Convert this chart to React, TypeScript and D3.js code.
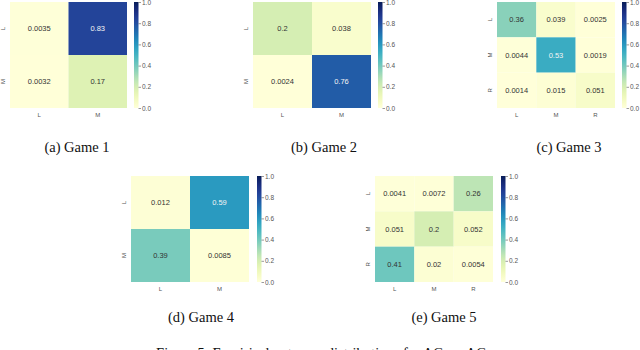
import React, { useEffect, useRef } from 'react'
import * as d3 from 'd3'

// values
const labels2 = ['L', 'M']
const labels3 = ['L', 'M', 'R']
const game1 = [[0.0035, 0.83], [0.0032, 0.17]]
const game2 = [[0.2, 0.038], [0.0024, 0.76]]
const game3 = [[0.36, 0.039, 0.0025], [0.0044, 0.53, 0.0019], [0.0014, 0.015, 0.051]]
const game4 = [[0.012, 0.59], [0.39, 0.0085]]
const game5 = [[0.0041, 0.0072, 0.26], [0.051, 0.2, 0.052], [0.41, 0.02, 0.0054]]
const captions = ['(a) Game 1', '(b) Game 2', '(c) Game 3', '(d) Game 4', '(e) Game 5']
const cbarTicks = [0, 0.2, 0.4, 0.6, 0.8, 1.0]
const figureCaption = 'Figure 5: Empirical outcome distributions for AC vs. AC'

const SANS = "'Liberation Sans', Arial, sans-serif"
const SERIF = "'Liberation Serif', 'Times New Roman', serif"

// layout: heatmap left/top, size, colorbar x, caption centre
const panels = [
  { data: game1, labels: labels2, x: 10, y: 2, w: 117, h: 106, cb: 134, cx: 77, cy: 152 },
  { data: game2, labels: labels2, x: 253, y: 2, w: 118, h: 106, cb: 378, cx: 324, cy: 152 },
  { data: game3, labels: labels3, x: 497, y: 2, w: 118, h: 106, cb: 622, cx: 569, cy: 152 },
  { data: game4, labels: labels2, x: 131, y: 176, w: 118, h: 106, cb: 257, cx: 201, cy: 322 },
  { data: game5, labels: labels3, x: 375, y: 176, w: 118, h: 106, cb: 501, cx: 444, cy: 322 },
]

const fmt = (v: number) => String(+v.toPrecision(2))

function App() {
  const ref = useRef<SVGSVGElement>(null)

  useEffect(() => {
    const svg = d3.select(ref.current)
    svg.selectAll('*').remove()
    const color = d3.scaleSequential(d3.interpolateYlGnBu).domain([0, 1])

    const defs = svg.append('defs')
    const grad = defs.append('linearGradient')
      .attr('id', 'cbar').attr('x1', 0).attr('y1', 1).attr('x2', 0).attr('y2', 0)
    d3.range(0, 1.0001, 0.05).forEach(t => {
      grad.append('stop').attr('offset', t).attr('stop-color', color(t))
    })

    panels.forEach((p, i) => {
      const g = svg.append('g')
      const xs = d3.scaleBand().domain(p.labels).range([p.x, p.x + p.w])
      const ys = d3.scaleBand().domain(p.labels).range([p.y, p.y + p.h])

      p.data.forEach((row, r) => {
        row.forEach((v, c) => {
          const x = xs(p.labels[c])!
          const y = ys(p.labels[r])!
          g.append('rect')
            .attr('x', x).attr('y', y)
            .attr('width', xs.bandwidth()).attr('height', ys.bandwidth())
            .attr('fill', color(v))
          g.append('text')
            .attr('x', x + xs.bandwidth() / 2)
            .attr('y', y + ys.bandwidth() / 2)
            .attr('dy', '0.35em')
            .attr('text-anchor', 'middle')
            .attr('font-size', 7.5)
            .attr('font-family', SANS)
            .attr('fill', v > 0.5 ? '#f4f4f4' : '#333')
            .text(fmt(v))
        })
      })

      // x tick labels
      p.labels.forEach(l => {
        g.append('text')
          .attr('x', xs(l)! + xs.bandwidth() / 2)
          .attr('y', p.y + p.h + 9)
          .attr('text-anchor', 'middle')
          .attr('font-size', 6)
          .attr('font-family', SANS)
          .attr('fill', '#555')
          .text(l)
      })
      // y tick labels, rotated
      p.labels.forEach(l => {
        const cy = ys(l)! + ys.bandwidth() / 2
        g.append('text')
          .attr('transform', `translate(${p.x - 5},${cy}) rotate(-90)`)
          .attr('text-anchor', 'middle')
          .attr('font-size', 6)
          .attr('font-family', SANS)
          .attr('fill', '#555')
          .text(l)
      })

      // colorbar
      g.append('rect')
        .attr('x', p.cb).attr('y', p.y)
        .attr('width', 4.5).attr('height', p.h)
        .attr('fill', 'url(#cbar)')
      const cs = d3.scaleLinear().domain([0, 1]).range([p.y + p.h, p.y])
      const ax = g.append('g')
        .attr('transform', `translate(${p.cb + 4.5},0)`)
        .call(d3.axisRight(cs).tickValues(cbarTicks).tickFormat(d3.format('.1f')).tickSize(2.5).tickPadding(1))
      ax.select('.domain').remove()
      ax.selectAll('line').attr('stroke', '#555').attr('stroke-width', 0.6)
      ax.selectAll('text')
        .attr('font-size', 6.5)
        .attr('font-family', SANS)
        .attr('fill', '#555')

      svg.append('text')
        .attr('x', p.cx).attr('y', p.cy)
        .attr('text-anchor', 'middle')
        .attr('font-size', 14.5)
        .attr('font-family', SERIF)
        .attr('fill', '#111')
        .text(captions[i])
    })

    svg.append('text')
      .attr('x', 321).attr('y', 358)
      .attr('text-anchor', 'middle')
      .attr('font-size', 14.5)
      .attr('font-family', SERIF)
      .attr('fill', '#111')
      .text(figureCaption)
  }, [])

  return (
    <div style={{ position: 'absolute', left: 0, top: 0 }}>
      <svg ref={ref} width={640} height={350} style={{ display: 'block', background: '#fff' }} />
    </div>
  )
}

export default App
